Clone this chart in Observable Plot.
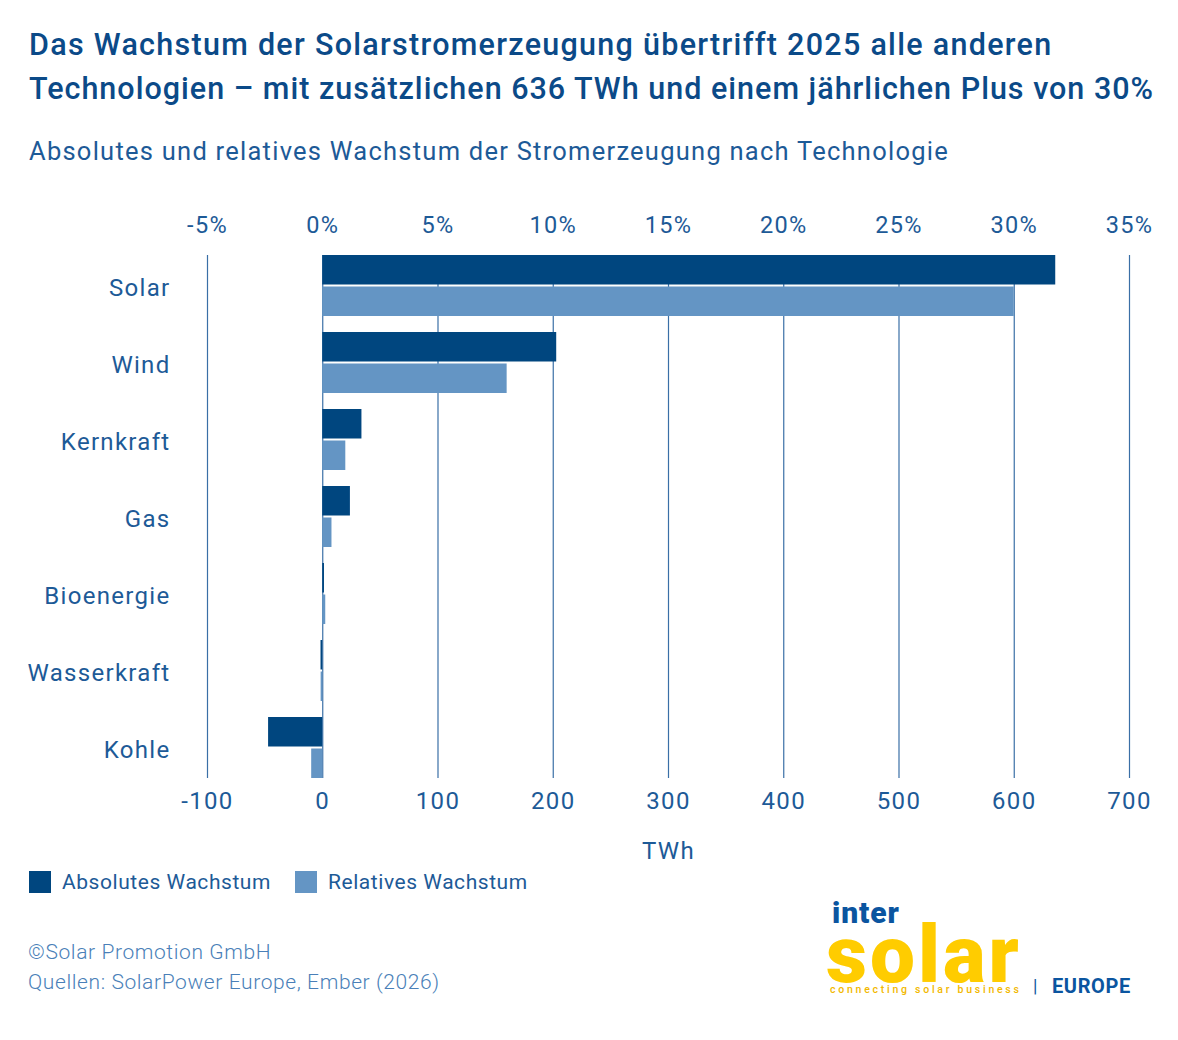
<!DOCTYPE html>
<html><head><meta charset="utf-8">
<script src="https://cdn.jsdelivr.net/npm/d3@7"></script>
<script src="https://cdn.jsdelivr.net/npm/@observablehq/plot@0.6"></script>
<style>
body{margin:0;background:#fff;font-family:Roboto,"Noto Sans",sans-serif;}
#wrap{position:relative;width:1178px;height:1040px;overflow:hidden;}
.abs{position:absolute;white-space:nowrap;}
#title{left:29px;top:23px;font-size:30.5px;font-weight:500;color:#0b4a88;line-height:44px;}
#sub{left:29px;top:136px;font-size:25.5px;font-weight:400;color:#1d5a97;letter-spacing:1.25px;}
#chart{left:0;top:190px;}
.leg{top:870px;font-size:21px;color:#1d5a97;display:flex;align-items:center;letter-spacing:0.55px;}
.sw{display:inline-block;width:22px;height:22px;margin-right:11px;}
.foot{left:28px;font-size:21px;font-weight:300;color:#4a7fb8;letter-spacing:0.6px;}
</style></head>
<body><div id="wrap">
<div id="title" class="abs"><span style="letter-spacing:1.28px">Das Wachstum der Solarstromerzeugung übertrifft 2025 alle anderen</span><br><span style="letter-spacing:1.0px">Technologien – mit zusätzlichen 636 TWh und einem jährlichen Plus von 30%</span></div>
<div id="sub" class="abs">Absolutes und relatives Wachstum der Stromerzeugung nach Technologie</div>
<div id="chart" class="abs"></div>
<div class="abs leg" style="left:29px"><span class="sw" style="background:#00467f"></span>Absolutes Wachstum</div>
<div class="abs leg" style="left:295px"><span class="sw" style="background:#6495c4"></span>Relatives Wachstum</div>
<div class="abs foot" style="top:940px">©Solar Promotion GmbH</div>
<div class="abs foot" style="top:970px">Quellen: SolarPower Europe, Ember (2026)</div>
<div class="abs" style="left:832px;top:901px;font-size:30px;font-weight:900;color:#0b55a0;letter-spacing:0.9px;line-height:24px">inter</div>
<div class="abs" style="left:826px;top:930px;font-size:80px;font-weight:900;color:#ffcc00;letter-spacing:3px;line-height:50px">solar</div>
<div class="abs" style="left:830px;top:984px;font-size:10.5px;font-weight:500;color:#f2b800;letter-spacing:2.75px;line-height:12px">connecting solar business</div>
<div class="abs" style="left:1033px;top:975px;font-size:18px;color:#0b55a0;line-height:22px">|</div>
<div class="abs" style="left:1052px;top:975px;font-size:20px;font-weight:700;color:#0b55a0;letter-spacing:0.6px;line-height:22px">EUROPE</div>
</div>
<script>
const categories = ["Solar","Wind","Kernkraft","Gas","Bioenergie","Wasserkraft","Kohle"];
const absoluteTWh = [636, 203, 34, 24, 1.5, -1.5, -47];
const relativePct = [30.0, 8.0, 1.0, 0.4, 0.13, -0.07, -0.48];
const twhTicks = [-100,0,100,200,300,400,500,600,700];
const pctPerTWh = 0.05; // top axis: 5% per 100 TWh

const absData = categories.map((c,i)=>({cat:c, v:absoluteTWh[i]}));
const relData = categories.map((c,i)=>({cat:c, v:relativePct[i]/pctPerTWh}));

const textColor = "#1d5a97";
const plot = Plot.plot({
  width: 1178,
  height: 690,
  marginTop: 65,
  marginBottom: 102,
  marginLeft: 207,
  marginRight: 49,
  style: {fontFamily: "Roboto, 'Noto Sans', sans-serif", fontSize: "24px", color: textColor, background: "transparent", letterSpacing: "1.3px", overflow: "visible"},
  x: {domain: [-100, 700]},
  y: {domain: categories, paddingInner: 0.208, paddingOuter: 0},
  marks: [
    Plot.gridX(twhTicks, {stroke: "#3a6fa6", strokeOpacity: 1, strokeWidth: 1.2}),
    Plot.barX(absData, {x: "v", y: "cat", fill: "#00467f", insetBottom: 31.5}),
    Plot.barX(relData, {x: "v", y: "cat", fill: "#6495c4", insetTop: 31.5}),
    Plot.axisX({anchor: "top", ticks: twhTicks, tickSize: 0, tickPadding: 23,
      tickFormat: d => `${Math.round(d*pctPerTWh)}%`, label: null, fontSize: 23.5}),
    Plot.axisX({anchor: "bottom", ticks: twhTicks, tickSize: 0, tickPadding: 13,
      tickFormat: d => d < 0 ? `-${-d}` : `${d}`, label: "TWh", labelAnchor: "center", labelArrow: "none", labelOffset: 80, fontSize: 24}),
    Plot.axisY({tickSize: 0, tickPadding: 37, label: null, fontSize: 24, letterSpacing: 1, dy: 2})
  ]
});
document.getElementById("chart").appendChild(plot);
</script>
</body></html>
